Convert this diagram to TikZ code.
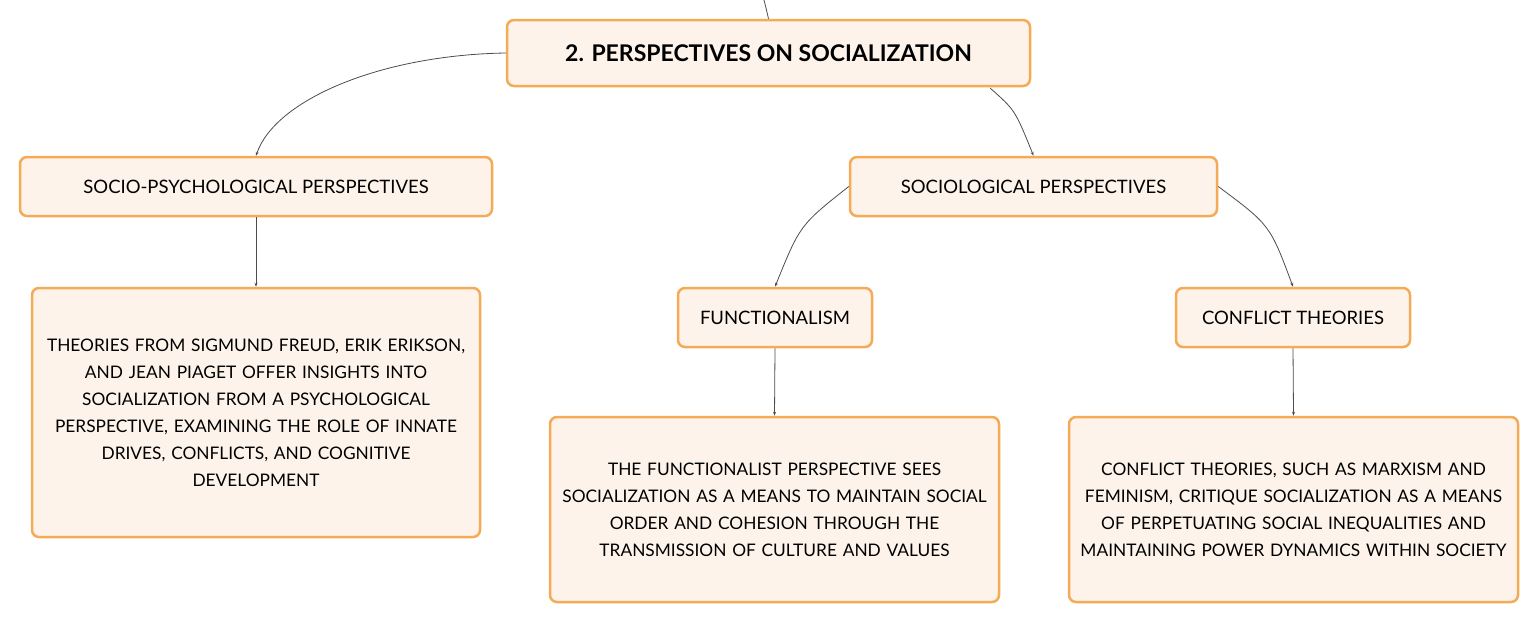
\documentclass[tikz,border=0pt]{standalone}
\usepackage{fontspec}
\setmainfont{Lato}
\usetikzlibrary{arrows.meta}
\definecolor{boxfill}{HTML}{FDF3EA}
\definecolor{boxdraw}{HTML}{F5AA55}
\begin{document}
\begin{tikzpicture}[x=1pt,y=-1pt,
  box/.style={draw=boxdraw,fill=boxfill,line width=2.5pt,rounded corners=7pt,align=center,inner sep=0pt,font=\fontsize{17.3}{27}\selectfont},
  lab/.style={box,font=\fontsize{18.5}{27}\selectfont},
  conn/.style={draw=black!70,line width=0.8pt,-{Stealth[length=4pt,width=3pt]}}]
\useasboundingbox (0,0) rectangle (1538,624);
\node[box,minimum width=523pt,minimum height=66pt,font=\fontsize{23}{27}\selectfont\bfseries] (t) at (768.5,53) {2. PERSPECTIVES ON SOCIALIZATION};
\node[lab,minimum width=472pt,minimum height=59pt] (sp) at (256,186.5) {SOCIO-PSYCHOLOGICAL PERSPECTIVES};
\node[lab,minimum width=367pt,minimum height=59pt] (so) at (1033.5,186.5) {SOCIOLOGICAL PERSPECTIVES};
\node[box,minimum width=448pt,minimum height=249pt,text width=440pt] (lt) at (256,412.5) {THEORIES FROM SIGMUND FREUD, ERIK ERIKSON,\\AND JEAN PIAGET OFFER INSIGHTS INTO\\SOCIALIZATION FROM A PSYCHOLOGICAL\\PERSPECTIVE, EXAMINING THE ROLE OF INNATE\\DRIVES, CONFLICTS, AND COGNITIVE\\DEVELOPMENT};
\node[lab,minimum width=194pt,minimum height=59pt] (fu) at (775,317.5) {FUNCTIONALISM};
\node[lab,minimum width=234pt,minimum height=59pt] (ct) at (1293,317.5) {CONFLICT THEORIES};
\node[box,minimum width=449pt,minimum height=185pt,text width=440pt] (ft) at (774.5,509.5) {THE FUNCTIONALIST PERSPECTIVE SEES\\SOCIALIZATION AS A MEANS TO MAINTAIN SOCIAL\\ORDER AND COHESION THROUGH THE\\TRANSMISSION OF CULTURE AND VALUES};
\node[box,minimum width=449pt,minimum height=185pt,text width=440pt] (cx) at (1293.5,509.5) {CONFLICT THEORIES, SUCH AS MARXISM AND\\FEMINISM, CRITIQUE SOCIALIZATION AS A MEANS\\OF PERPETUATING SOCIAL INEQUALITIES AND\\MAINTAINING POWER DYNAMICS WITHIN SOCIETY};
\coordinate (top) at (764,0);
\draw[draw=black!70,line width=0.8pt] (top) .. controls (766,8) .. (t.north);
\draw[conn] (t.west) .. controls (380,55) and (275,100) .. (sp.north);
\draw[conn] (990,88) .. controls (1015,110) .. (so.north);
\draw[conn] (so.west) .. controls (800,225) .. (fu.north);
\draw[conn] (so.east) .. controls (1270,225) .. (ct.north);
\draw[conn] (sp.south) -- (lt.north);
\draw[conn] (fu.south) -- (ft.north);
\draw[conn] (ct.south) -- (cx.north);
\end{tikzpicture}
\end{document}
